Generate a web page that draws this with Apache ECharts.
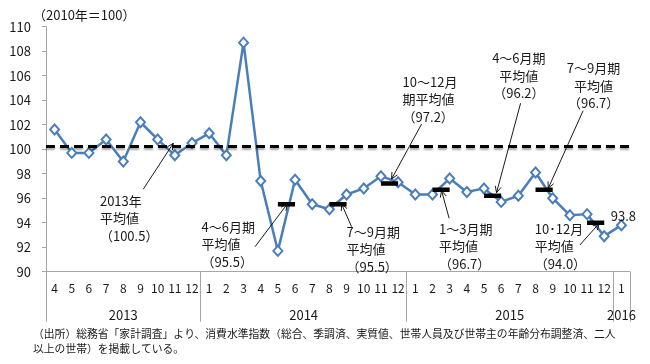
<!DOCTYPE html>
<html>
<head>
<meta charset="utf-8">
<script src="https://cdn.jsdelivr.net/npm/echarts@6/dist/echarts.min.js"></script>
<style>
html,body{margin:0;padding:0;background:#fff;}
#c{width:650px;height:364px;}
</style>
</head>
<body>
<div id="c"></div>
<script>
// ---- data ----
const months = ['4','5','6','7','8','9','10','11','12',
  '1','2','3','4','5','6','7','8','9','10','11','12',
  '1','2','3','4','5','6','7','8','9','10','11','12',
  '1'];
const yearLabels = ['2013','2014','2015','2016'];
const yearLabelPos = [4.5, 15, 27, 33.5];
const yearBounds = [0, 9, 21, 33, 34];
const consumption = [101.6, 99.7, 99.7, 100.8, 99.0, 102.2, 100.8, 99.5, 100.5,
  101.3, 99.5, 108.7, 97.4, 91.7, 97.5, 95.5, 95.1, 96.3, 96.8, 97.8, 97.3,
  96.3, 96.3, 97.6, 96.5, 96.8, 95.7, 96.2, 98.1, 96.0, 94.6, 94.7, 92.9,
  93.8];
const quarterAvg = [null,null,null,null,null,null,null,null,null,
  null,null,null,null,95.5,95.5,null,95.5,95.5,null,97.2,97.2,
  null,96.7,96.7,null,96.2,96.2,null,96.7,96.7,null,94.0,94.0,
  null];
const avg2013Line = 100.2;
const titleText = '（2010年＝100）';
const footerText = '（出所）総務省「家計調査」より、消費水準指数（総合、季調済、実質値、世帯人員及び世帯主の年齢分布調整済、二人\n以上の世帯）を掲載している。';
// annotations: text anchor [u (axis units), v (value)], arrow from/to
const annotations = [
  {text:'2013年\n平均値\n（100.5）', at:[3.14, 95.80], align:'left', from:[5.66, 96.73], to:[7.41, 100.48]},
  {text:'4～6月期\n平均値\n（95.5）', at:[9.06, 93.67], align:'left', from:[12.17, 92.04], to:[14.05, 95.53]},
  {text:'7～9月期\n平均値\n（95.5）', at:[17.50, 93.27], align:'left', from:[17.79, 93.67], to:[17.21, 95.53]},
  {text:'10～12月\n期平均値\n（97.2）', at:[20.76, 105.51], align:'left', from:[21.87, 102.06], to:[20.12, 97.57]},
  {text:'1～3月期\n平均値\n（96.7）', at:[22.88, 93.49], align:'left', from:[23.47, 94.36], to:[23.03, 96.61]},
  {text:'4～6月期\n平均値\n（96.2）', at:[27.53, 107.42], align:'center', from:[27.63, 103.75], to:[26.23, 96.45]},
  {text:'7～9月期\n平均値\n（96.7）', at:[31.88, 106.60], align:'center', from:[31.27, 103.14], to:[29.24, 96.81]},
  {text:'10･12月\n平均値\n（94.0）', at:[28.46, 93.49], align:'left', from:[31.08, 92.18], to:[32.21, 93.95]}
];

// ---- chart ----
const FONT = 'Noto Sans CJK JP';
const TXT = '#1a1a1a';
const AX = '#a6a6a6';
const BLUE = '#4A7EBB';
const chart = echarts.init(document.getElementById('c'));
const last = consumption.length - 1;

chart.setOption({
  animation: false,
  textStyle: {fontFamily: FONT},
  grid: {left: 46, right: 20, top: 26.7, bottom: 92.3},
  xAxis: [
    {
      type: 'category', data: months, boundaryGap: true,
      axisLine: {lineStyle: {color: AX}},
      axisTick: {interval: 0, length: 26, lineStyle: {color: AX}},
      axisLabel: {interval: 0, margin: 11, fontSize: 12, color: TXT, fontFamily: FONT}
    },
    {
      type: 'value', min: 0, max: 34, position: 'bottom',
      axisLine: {show: false}, splitLine: {show: false},
      axisTick: {show: true, customValues: yearBounds, length: 50, lineStyle: {color: AX}},
      axisLabel: {customValues: yearLabelPos, margin: 37, fontSize: 13, color: TXT, fontFamily: FONT,
        formatter: v => '{y|' + (yearLabels[yearLabelPos.indexOf(v)] || '') + '}',
        rich: {y: {fontFamily: FONT, fontSize: 13, color: TXT}}}
    }
  ],
  yAxis: {
    type: 'value', min: 90, max: 110, interval: 2,
    axisLine: {show: true, lineStyle: {color: AX}},
    axisTick: {show: true, length: 4, lineStyle: {color: AX}},
    splitLine: {show: false},
    axisLabel: {margin: 15, fontSize: 13, color: TXT, fontFamily: FONT}
  },
  series: [
    {
      type: 'line', xAxisIndex: 0, yAxisIndex: 0,
      data: consumption.map((v, i) => i === last ? {value: v, label: {show: true}} : v),
      symbol: 'emptyDiamond', symbolSize: [9, 10],
      lineStyle: {color: BLUE, width: 2.5},
      itemStyle: {color: BLUE, borderWidth: 2},
      label: {show: false, position: 'top', distance: 0, offset: [2, 3], fontSize: 13, color: TXT, fontFamily: FONT},
      z: 3,
      markLine: {
        silent: true, symbol: 'none',
        label: {show: false},
        lineStyle: {color: '#000', width: 3, type: [9, 5], shadowColor: 'rgba(0,0,0,0.35)', shadowBlur: 2, shadowOffsetY: 2},
        data: [{yAxis: avg2013Line}]
      }
    },
    {
      type: 'line', xAxisIndex: 0, yAxisIndex: 0,
      data: quarterAvg, connectNulls: false, symbol: 'none',
      lineStyle: {color: '#000', width: 4.5, cap: 'butt'},
      z: 4
    }
  ]
});

// annotations drawn via axis conversions
const px = u => chart.convertToPixel({xAxisIndex: 1}, u);
const py = v => chart.convertToPixel({yAxisIndex: 0}, v);
const graphics = [];
graphics.push({type: 'text', left: 33, top: 9, style: {text: titleText, font: '13px "' + FONT + '"', fill: TXT}});
graphics.push({type: 'text', left: 33, top: 326, style: {text: footerText, font: '10.8px "' + FONT + '"', fill: TXT, lineHeight: 15}});
const LH = 17.5;
annotations.forEach(a => {
  const x = px(a.at[0]), y = py(a.at[1]);
  graphics.push({type: 'text', x: x, y: y - LH / 2, z: 10,
    style: {text: a.text, font: '13px "' + FONT + '"', fill: TXT, lineHeight: LH, align: a.align, verticalAlign: 'top'}});
  const x1 = px(a.from[0]), y1 = py(a.from[1]), x2 = px(a.to[0]), y2 = py(a.to[1]);
  graphics.push({type: 'line', z: 10, shape: {x1: x1, y1: y1, x2: x2, y2: y2}, style: {stroke: '#000', lineWidth: 0.9}});
  const ang = Math.atan2(y2 - y1, x2 - x1), L = 7, s = 0.45;
  graphics.push({type: 'polyline', z: 10, shape: {points: [
    [x2 - L * Math.cos(ang - s), y2 - L * Math.sin(ang - s)], [x2, y2],
    [x2 - L * Math.cos(ang + s), y2 - L * Math.sin(ang + s)]]},
    style: {stroke: '#000', lineWidth: 0.9, fill: null}});
});
chart.setOption({graphic: graphics});
</script>
</body>
</html>
